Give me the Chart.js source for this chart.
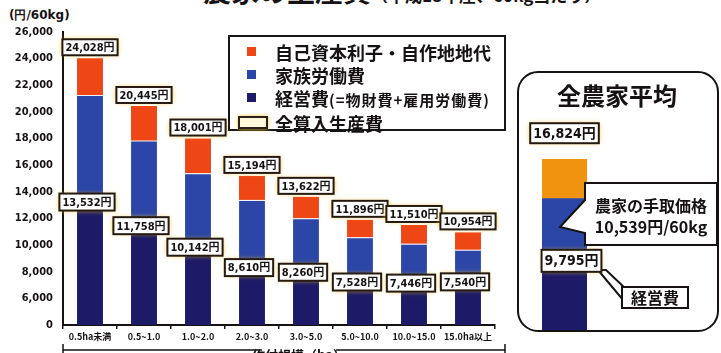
<!DOCTYPE html>
<html lang="ja">
<head>
<meta charset="utf-8">
<title>農家の生産費</title>
<script src="https://cdn.jsdelivr.net/npm/chart.js@4.4.1/dist/chart.umd.min.js"></script>
<style>
    html, body { margin: 0; padding: 0; background: #fff; }
    body { width: 721px; height: 353px; position: relative; overflow: hidden; color: #161214; font-family: "Noto Sans CJK JP", sans-serif; }
    #title { position: absolute; left: 203px; top: -24px; white-space: nowrap; font-weight: 700; line-height: 28px; }
    #title .main { font-size: 28px; }
    #title .sub { font-size: 17px; }
    #unit { position: absolute; left: 9px; top: 7px; font: 700 12px "DejaVu Sans", sans-serif; white-space: nowrap; }
    #mainChart { position: absolute; left: 0; top: 0; }
    #avgChart { position: absolute; left: 512px; top: 0; }
    #legend { position: absolute; left: 228px; top: 35px; width: 278px; height: 96px; box-sizing: border-box; border: 2px solid #181818; background: #fff; }
    #legend .row { position: absolute; left: 0; height: 20px; line-height: 20px; font-size: 18px; font-weight: 700; white-space: nowrap; }
    #legend .mark { position: absolute; top: 5px; width: 9px; height: 9px; }
    #legend .frame { position: absolute; top: 3px; left: 8px; width: 30px; height: 13px; box-sizing: border-box; border: 2px solid #2a2018; background: #fff7dc; box-shadow: 0 0 4px #f3c640; }
    #legend .text { position: absolute; left: 45px; top: 0; }
    #legend small { font-size: 15px; letter-spacing: 1px; }
</style>
</head>
<body>
<div id="title"><span class="main">農家の生産費</span><span class="sub">（平成18年産、60kg当たり）</span></div>
<div id="unit">(円/60kg)</div>
<canvas id="mainChart" width="512" height="353"></canvas>
<canvas id="avgChart" width="209" height="353"></canvas>
<div id="legend"></div>

<script>
// 作付規模別の区分
const CATEGORIES = ['0.5ha未満', '0.5~1.0', '1.0~2.0', '2.0~3.0', '3.0~5.0', '5.0~10.0', '10.0~15.0', '15.0ha以上'];

// 60kg当たりの費用（円）
const MANAGEMENT = [13532, 11758, 10142, 8610, 8260, 7528, 7446, 7540];
const FAMILY_LABOR = [7746, 6087, 5259, 4784, 3762, 3068, 2664, 2114];
const INTEREST_RENT = [2750, 2600, 2600, 1800, 1600, 1300, 1400, 1300];
const TOTAL_COST = [24028, 20445, 18001, 15194, 13622, 11896, 11510, 10954];

// 全農家平均
const AVG_MANAGEMENT = [9795];
const AVG_FAMILY_LABOR = [4079];
const AVG_INTEREST_RENT = [2950];
const AVG_TOTAL = 16824;
const AVG_FARM_PRICE = 10539;

// 縦軸の目盛り（下端は省略して0と表示）
const Y_TICK_LABELS = ['0', '6,000', '8,000', '10,000', '12,000', '14,000', '16,000', '18,000', '20,000', '22,000', '24,000', '26,000'];

// 凡例の文字
const SERIES_LABELS = ['自己資本利子・自作地地代', '家族労働費', '経営費', '全算入生産費'];
const MANAGEMENT_NOTE = '(=物財費+雇用労働費)';

// 色
const RED = '#ef4616';
const BLUE = '#2b46a6';
const NAVY = '#1d1a68';
const ORANGE = '#f0930e';
const INK = '#161214';

const yen = (v) => v.toLocaleString('en-US') + '円';

// 白地・黒枠の数値ラベル
const drawTag = (ctx, text, cx, cy, font, h) => {
    ctx.save();
    ctx.font = font;
    const w = ctx.measureText(text).width + 6;
    const x = cx - w / 2;
    const y = cy - h / 2;
    ctx.shadowColor = 'rgba(242, 194, 40, 0.95)';
    ctx.shadowBlur = 5;
    ctx.fillStyle = '#fff';
    ctx.fillRect(x, y, w, h);
    ctx.shadowBlur = 0;
    ctx.lineWidth = 2;
    ctx.strokeStyle = '#241a12';
    ctx.strokeRect(x, y, w, h);
    ctx.fillStyle = INK;
    ctx.textAlign = 'center';
    ctx.textBaseline = 'middle';
    ctx.fillText(text, cx, cy + 1);
    ctx.restore();
    return { x, y, w, h };
};

// 凡例
const legendBox = document.getElementById('legend');
const LEGEND_COLORS = [RED, BLUE, NAVY, null];
SERIES_LABELS.forEach((label, i) => {
    const row = document.createElement('div');
    row.className = 'row';
    row.style.top = (i < 3 ? 5 + i * 23 : 76) + 'px';
    const mark = document.createElement('span');
    if (LEGEND_COLORS[i]) {
        mark.className = 'mark';
        mark.style.left = '17px';
        mark.style.background = LEGEND_COLORS[i];
    } else {
        mark.className = 'frame';
    }
    const text = document.createElement('span');
    text.className = 'text';
    text.textContent = label;
    if (i === 2) {
        const note = document.createElement('small');
        note.textContent = MANAGEMENT_NOTE;
        text.appendChild(note);
    }
    row.appendChild(mark);
    row.appendChild(text);
    legendBox.appendChild(row);
});

// 棒の上と経営費の境目に金額を描く
const valueTags = {
    id: 'valueTags',
    afterDatasetsDraw(chart) {
        const ctx = chart.ctx;
        const yScale = chart.scales.y;
        const font = 'bold 11px "DejaVu Sans Condensed", "Noto Sans CJK JP", sans-serif';
        chart.getDatasetMeta(0).data.forEach((bar, i) => {
            const top = yScale.getPixelForValue(TOTAL_COST[i]);
            drawTag(ctx, yen(TOTAL_COST[i]), bar.x, top - 11, font, 16);
            const edge = yScale.getPixelForValue(MANAGEMENT[i]);
            drawTag(ctx, yen(MANAGEMENT[i]), bar.x - 3, edge + 4, font, 17);
        });
    },
    afterDraw(chart) {
        // 下部の区分線
        const ctx = chart.ctx;
        ctx.save();
        ctx.strokeStyle = INK;
        ctx.lineWidth = 1.5;
        ctx.beginPath();
        ctx.moveTo(63, 344); ctx.lineTo(63, 353);
        ctx.moveTo(63, 350); ctx.lineTo(262, 350);
        ctx.moveTo(336, 350); ctx.lineTo(505, 350);
        ctx.moveTo(505, 344); ctx.lineTo(505, 353);
        ctx.stroke();
        ctx.font = 'bold 13px "Noto Sans CJK JP", sans-serif';
        ctx.fillStyle = INK;
        ctx.textAlign = 'center';
        ctx.textBaseline = 'top';
        ctx.fillText('作付規模（ha）', 299, 349);
        ctx.restore();
    }
};

new Chart(document.getElementById('mainChart'), {
    type: 'bar',
    data: {
        labels: CATEGORIES,
        datasets: [{
            label: SERIES_LABELS[2],
            data: MANAGEMENT,
            backgroundColor: NAVY
        }, {
            label: SERIES_LABELS[1],
            data: FAMILY_LABOR,
            backgroundColor: BLUE,
            borderColor: 'rgba(235, 235, 255, 0.6)',
            borderWidth: { top: 1, bottom: 0, left: 0, right: 0 }
        }, {
            label: SERIES_LABELS[0],
            data: INTEREST_RENT,
            backgroundColor: RED
        }]
    },
    options: {
        responsive: false,
        animation: false,
        layout: { padding: { top: 32, right: 17, left: 0, bottom: 0 } },
        datasets: { bar: { categoryPercentage: 1, barPercentage: 0.48 } },
        plugins: {
            legend: { display: false },
            tooltip: { enabled: false }
        },
        scales: {
            x: {
                stacked: true,
                grid: { display: true, drawOnChartArea: false, tickLength: 4, color: INK, lineWidth: 1.5 },
                border: { color: INK, width: 2 },
                ticks: {
                    color: INK,
                    padding: 2,
                    maxRotation: 0,
                    autoSkip: false,
                    font: { family: '"Noto Sans CJK JP", sans-serif', size: 9, weight: 'bold' }
                },
                afterFit: (scale) => { scale.height = 28; }
            },
            y: {
                stacked: true,
                min: 4000,
                max: 26000,
                grid: { display: false, drawTicks: false },
                border: { color: INK, width: 2 },
                ticks: {
                    stepSize: 2000,
                    padding: 10,
                    color: INK,
                    font: { family: '"DejaVu Sans Condensed", "DejaVu Sans", sans-serif', size: 11, weight: 'bold' },
                    callback: (value, index) => Y_TICK_LABELS[index]
                },
                afterFit: (scale) => { scale.width = 63; }
            }
        }
    },
    plugins: [valueTags]
});

// 全農家平均の枠・吹き出し
const roundRect = (ctx, x, y, w, h, r) => {
    ctx.beginPath();
    ctx.moveTo(x + r, y);
    ctx.arcTo(x + w, y, x + w, y + h, r);
    ctx.arcTo(x + w, y + h, x, y + h, r);
    ctx.arcTo(x, y + h, x, y, r);
    ctx.arcTo(x, y, x + w, y, r);
    ctx.closePath();
};

const avgPanel = {
    id: 'avgPanel',
    beforeDraw(chart) {
        const ctx = chart.ctx;
        ctx.save();
        ctx.fillStyle = '#fff';
        ctx.strokeStyle = INK;
        ctx.lineWidth = 2;
        roundRect(ctx, 6, 72, 200, 259, 20);
        ctx.fill();
        ctx.stroke();
        ctx.fillStyle = INK;
        ctx.font = 'bold 24px "Noto Sans CJK JP", sans-serif';
        ctx.textAlign = 'center';
        ctx.textBaseline = 'middle';
        ctx.fillText('全農家平均', 105, 96);
        ctx.restore();
    },
    afterDatasetsDraw(chart) {
        const ctx = chart.ctx;
        const yScale = chart.scales.y;
        const bar = chart.getDatasetMeta(0).data[0];
        const font = 'bold 14px "DejaVu Sans Condensed", "Noto Sans CJK JP", sans-serif';

        // 農家の手取価格の吹き出し
        ctx.save();
        ctx.fillStyle = '#fff';
        ctx.strokeStyle = INK;
        ctx.lineWidth = 2;
        ctx.beginPath();
        ctx.moveTo(73, 183);
        ctx.lineTo(205, 183);
        ctx.lineTo(205, 245);
        ctx.lineTo(73, 245);
        ctx.lineTo(73, 233);
        ctx.lineTo(48, 227);
        ctx.lineTo(73, 200);
        ctx.closePath();
        ctx.fill();
        ctx.stroke();
        ctx.fillStyle = INK;
        ctx.font = 'bold 16px "Noto Sans CJK JP", sans-serif';
        ctx.textAlign = 'center';
        ctx.textBaseline = 'middle';
        ctx.fillText('農家の手取価格', 139, 206);
        ctx.fillText(yen(AVG_FARM_PRICE) + '/60kg', 139, 227);
        ctx.restore();

        // 経営費の吹き出し
        ctx.save();
        ctx.fillStyle = '#fff';
        ctx.strokeStyle = INK;
        ctx.lineWidth = 2;
        ctx.beginPath();
        ctx.moveTo(86, 270);
        ctx.lineTo(111, 300);
        ctx.lineTo(114, 289);
        ctx.lineTo(94, 270);
        ctx.closePath();
        ctx.fill();
        ctx.stroke();
        ctx.fillRect(110, 287, 66, 21);
        ctx.strokeRect(110, 287, 66, 21);
        ctx.fillStyle = INK;
        ctx.font = 'bold 16px "Noto Sans CJK JP", sans-serif';
        ctx.textAlign = 'center';
        ctx.textBaseline = 'middle';
        ctx.fillText('経営費', 143, 298);
        ctx.restore();

        const top = yScale.getPixelForValue(AVG_TOTAL);
        drawTag(ctx, yen(AVG_TOTAL), bar.x, top - 26, font, 20);
        const edge = yScale.getPixelForValue(AVG_MANAGEMENT[0]);
        drawTag(ctx, yen(AVG_MANAGEMENT[0]), bar.x + 7, edge + 8, font, 22);
    }
};

new Chart(document.getElementById('avgChart'), {
    type: 'bar',
    data: {
        labels: ['全農家平均'],
        datasets: [{
            label: SERIES_LABELS[2],
            data: AVG_MANAGEMENT,
            backgroundColor: NAVY
        }, {
            label: SERIES_LABELS[1],
            data: AVG_FAMILY_LABOR,
            backgroundColor: BLUE
        }, {
            label: SERIES_LABELS[0],
            data: AVG_INTEREST_RENT,
            backgroundColor: ORANGE
        }]
    },
    options: {
        responsive: false,
        animation: false,
        layout: { padding: { top: 37, bottom: 23, left: 30, right: 134 } },
        datasets: { bar: { categoryPercentage: 1, barPercentage: 1 } },
        plugins: {
            legend: { display: false },
            tooltip: { enabled: false }
        },
        scales: {
            x: { stacked: true, display: false },
            y: { stacked: true, display: false, min: 4000, max: 26000 }
        }
    },
    plugins: [avgPanel]
});
</script>
</body>
</html>
